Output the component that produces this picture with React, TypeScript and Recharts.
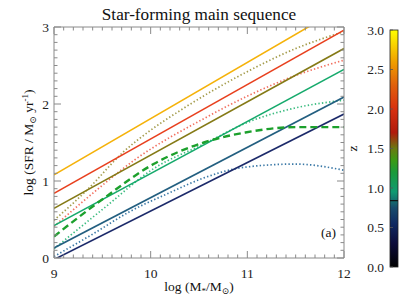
import React from "react";
import { LineChart, Line, XAxis, YAxis } from "recharts";

// ---- data ----
const massEnds = [9, 12];
const solidYellow = [1.08, 3.27];
const solidRed = [0.84, 2.96];
const solidOlive = [0.645, 2.72];
const solidGreen = [0.42, 2.45];
const solidTeal = [0.13, 2.09];
const solidNavy = [-0.02, 1.87];

const oliveDotX = [9, 9.34, 9.72, 10, 10.31, 11.03, 11.5, 12];
const oliveDotY = [0.49, 0.88, 1.38, 1.66, 1.92, 2.44, 2.72, 2.94];

const redDotX = [9, 9.4, 9.83, 10.55, 11.03, 11.5, 12];
const redDotY = [0.41, 0.84, 1.27, 1.81, 2.12, 2.37, 2.57];

const greenDashX = [9, 9.52, 10.03, 10.55, 10.98, 11.5, 12];
const greenDashY = [0.28, 0.78, 1.22, 1.5, 1.63, 1.7, 1.7];

const greenDotX = [9, 9.52, 10.03, 10.55, 11.0, 11.5, 12];
const greenDotY = [0.12, 0.65, 1.16, 1.48, 1.76, 1.95, 2.05];

const tealDotX = [9, 9.4, 9.78, 10.2, 10.55, 10.98, 11.5, 12];
const tealDotY = [0.02, 0.31, 0.6, 0.85, 1.04, 1.18, 1.22, 1.14];

const xTickLabels = [9, 10, 11, 12];
const yTickLabels = [0, 1, 2, 3];
const zTickLabels = ["0.0", "0.5", "1.0", "1.5", "2.0", "2.5", "3.0"];
const zMarker = 0.84;

const zStops: [number, string][] = [
  [0, "#000000"],
  [0.3, "#0c0c3a"],
  [0.55, "#102a62"],
  [0.75, "#184c6c"],
  [0.95, "#109a72"],
  [1.2, "#1a9a3a"],
  [1.35, "#3a9a14"],
  [1.5, "#6a7a10"],
  [1.7, "#b01a0c"],
  [2.0, "#d83010"],
  [2.3, "#e0600c"],
  [2.6, "#f0a000"],
  [3.0, "#ffff00"],
];

const zip = (xs: number[], ys: number[]) => xs.map((x, i) => ({ x, y: ys[i] }));

const FONT = "'Liberation Serif', 'DejaVu Serif', serif";
const AXIS = "#8a8a8a";
const FS = 13.5;

// plot geometry
const W = 415;
const H = 297;
const PL = 54;
const PR = 344;
const PT = 27;
const PB = 258;

const xMinor = Array.from({ length: 31 }, (_, i) => Math.round((9 + i * 0.1) * 10) / 10);
const yMinor = Array.from({ length: 31 }, (_, i) => Math.round(i * 0.1 * 10) / 10);
const isMajor = (v: number) => Math.abs(v - Math.round(v)) < 1e-6;

const BottomTick = (p: any) => {
  const v = p.payload.value;
  const major = isMajor(v);
  return (
    <g>
      <line x1={p.x} y1={p.y} x2={p.x} y2={p.y - (major ? 7 : 3.5)} stroke={AXIS} strokeWidth={1} />
      {major && xTickLabels.includes(v) ? (
        <text x={p.x} y={p.y + 20} textAnchor="middle" fontFamily={FONT} fontSize={FS} fill="#222">
          {v}
        </text>
      ) : null}
    </g>
  );
};
const TopTick = (p: any) => {
  const major = isMajor(p.payload.value);
  return <line x1={p.x} y1={p.y} x2={p.x} y2={p.y + (major ? 7 : 3.5)} stroke={AXIS} strokeWidth={1} />;
};
const LeftTick = (p: any) => {
  const v = p.payload.value;
  const major = isMajor(v);
  return (
    <g>
      <line x1={p.x} y1={p.y} x2={p.x + (major ? 7 : 3.5)} y2={p.y} stroke={AXIS} strokeWidth={1} />
      {major && yTickLabels.includes(v) ? (
        <text x={p.x - 5} y={p.y + 4.5} textAnchor="end" fontFamily={FONT} fontSize={FS} fill="#222">
          {v}
        </text>
      ) : null}
    </g>
  );
};
const RightTick = (p: any) => {
  const major = isMajor(p.payload.value);
  return <line x1={p.x} y1={p.y} x2={p.x - (major ? 7 : 3.5)} y2={p.y} stroke={AXIS} strokeWidth={1} />;
};

type S = { xs: number[]; ys: number[]; color: string; w: number; dash?: string; curve?: boolean };
const series: S[] = [
  { xs: tealDotX, ys: tealDotY, color: "#3a78a6", w: 1.7, dash: "1.4 2.2", curve: true },
  { xs: greenDotX, ys: greenDotY, color: "#3cbc80", w: 1.7, dash: "1.4 2.2", curve: true },
  { xs: redDotX, ys: redDotY, color: "#f27060", w: 1.7, dash: "1.4 2.2", curve: true },
  { xs: oliveDotX, ys: oliveDotY, color: "#a49c4c", w: 1.7, dash: "1.4 2.2", curve: true },
  { xs: massEnds, ys: solidNavy, color: "#1c2a6a", w: 1.6 },
  { xs: massEnds, ys: solidTeal, color: "#235f80", w: 1.6 },
  { xs: massEnds, ys: solidGreen, color: "#16aa6c", w: 1.6 },
  { xs: massEnds, ys: solidOlive, color: "#857a16", w: 1.6 },
  { xs: massEnds, ys: solidRed, color: "#e8401e", w: 1.6 },
  { xs: massEnds, ys: solidYellow, color: "#f5b20a", w: 1.6 },
  { xs: greenDashX, ys: greenDashY, color: "#1ca02c", w: 2.4, dash: "7 4", curve: true },
];

const Overlay = () => {
  const cbX = 390;
  const cbW = 8;
  const cbTop = 30;
  const cbBot = 267;
  const zy = (z: number) => cbBot - (z / 3) * (cbBot - cbTop);
  return (
    <svg width={W} height={H} style={{ position: "absolute", left: 0, top: 0, pointerEvents: "none" }}>
      <defs>
        <linearGradient id="zgrad" x1="0" y1="1" x2="0" y2="0">
          {zStops.map(([z, c]) => (
            <stop key={z} offset={z / 3} stopColor={c} />
          ))}
        </linearGradient>
      </defs>
      <text x={(PL + PR) / 2} y={20} textAnchor="middle" fontFamily={FONT} fontSize={17.2} fill="#111">
        Star-forming main sequence
      </text>
      <text
        x={0}
        y={0}
        transform={`translate(33, ${(PT + PB) / 2}) rotate(-90)`}
        textAnchor="middle"
        fontFamily={FONT}
        fontSize={FS}
        fill="#111"
      >
        log (SFR / M
        <tspan fontSize={9} dy={3}>⊙</tspan>
        <tspan dy={-3}> yr</tspan>
        <tspan fontSize={9} dy={-5}>-1</tspan>
        <tspan dy={5}>)</tspan>
      </text>
      <text x={(PL + PR) / 2} y={291} textAnchor="middle" fontFamily={FONT} fontSize={FS} fill="#111">
        log (M
        <tspan fontSize={9} dy={3}>*</tspan>
        <tspan dy={-3}>/M</tspan>
        <tspan fontSize={9} dy={3}>⊙</tspan>
        <tspan dy={-3}>)</tspan>
      </text>
      <text x={336} y={237} textAnchor="end" fontFamily={FONT} fontSize={FS} fill="#111">
        (a)
      </text>
      <rect x={cbX} y={cbTop} width={cbW} height={cbBot - cbTop} fill="url(#zgrad)" stroke="#222" strokeWidth={0.8} />
      <line x1={cbX} x2={cbX + cbW} y1={zy(zMarker)} y2={zy(zMarker)} stroke="#111" strokeWidth={1.2} />
      {zTickLabels.map((t) => (
        <g key={t}>
          <line x1={cbX} x2={cbX + 3} y1={zy(parseFloat(t))} y2={zy(parseFloat(t))} stroke="#555" strokeWidth={0.8} />
          <text x={384} y={zy(parseFloat(t)) + 4.5} textAnchor="end" fontFamily={FONT} fontSize={FS} fill="#222">
            {t}
          </text>
        </g>
      ))}
      <text
        x={0}
        y={0}
        transform={`translate(357, ${(cbTop + cbBot) / 2}) rotate(-90)`}
        textAnchor="middle"
        fontFamily={FONT}
        fontSize={FS}
        fill="#111"
      >
        z
      </text>
    </svg>
  );
}

export default function App() {
  return (
    <div style={{ position: "absolute", left: 0, top: 0, width: W, height: H, background: "#fff" }}>
      <LineChart
        width={W}
        height={H}
        margin={{ top: PT - 1, right: W - PR - 1, bottom: H - PB - 1, left: PL - 1 }}
      >
        <XAxis
          xAxisId={0}
          type="number"
          dataKey="x"
          domain={[9, 12]}
          allowDataOverflow
          ticks={xMinor}
          interval={0}
          height={1}
          tickSize={0}
          tickMargin={0}
          tickLine={false}
          axisLine={{ stroke: AXIS }}
          tick={BottomTick}
        />
        <XAxis
          xAxisId="top"
          orientation="top"
          type="number"
          dataKey="x"
          domain={[9, 12]}
          allowDataOverflow
          ticks={xMinor}
          interval={0}
          height={1}
          tickSize={0}
          tickMargin={0}
          tickLine={false}
          axisLine={{ stroke: AXIS }}
          tick={TopTick}
        />
        <YAxis
          yAxisId={0}
          type="number"
          domain={[0, 3]}
          allowDataOverflow
          ticks={yMinor}
          interval={0}
          width={1}
          tickSize={0}
          tickMargin={0}
          tickLine={false}
          axisLine={{ stroke: AXIS }}
          tick={LeftTick}
        />
        <YAxis
          yAxisId="right"
          orientation="right"
          type="number"
          domain={[0, 3]}
          allowDataOverflow
          ticks={yMinor}
          interval={0}
          width={1}
          tickSize={0}
          tickMargin={0}
          tickLine={false}
          axisLine={{ stroke: AXIS }}
          tick={RightTick}
        />
        {series.map((s, i) => (
          <Line
            key={i}
            xAxisId={0}
            yAxisId={0}
            data={zip(s.xs, s.ys)}
            dataKey="y"
            type={s.curve ? "monotone" : "linear"}
            stroke={s.color}
            strokeWidth={s.w}
            strokeDasharray={s.dash}
            dot={false}
            activeDot={false}
            isAnimationActive={false}
          />
        ))}
      </LineChart>
      <Overlay />
    </div>
  );
}
